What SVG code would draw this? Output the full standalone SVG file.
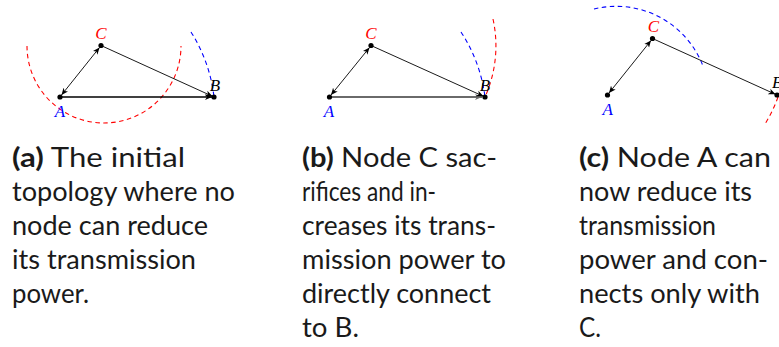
<svg xmlns="http://www.w3.org/2000/svg" width="779" height="347" viewBox="0 0 779 347">
<style>
.cap{font-family:"Lato","Liberation Sans",sans-serif;font-size:27px;fill:#1a1a1a}
.b{font-weight:bold}
.lbl{font-family:"Liberation Serif",serif;font-style:italic;font-size:17px;text-anchor:middle}
.dot{fill:#000}
.ln{stroke:#000;stroke-width:0.9;fill:none}
.ab{stroke:#000;stroke-width:1.3;fill:none}
.abg{stroke:#6a6a6a;stroke-width:2.2;fill:none}
.rr{stroke:#ff0000;stroke-width:1.1;fill:none;stroke-dasharray:4.5 3.5}
.rb{stroke:#0000ff;stroke-width:1.1;fill:none;stroke-dasharray:4.5 3.5}
</style>
<defs>
<marker id="ah" markerUnits="userSpaceOnUse" markerWidth="8" markerHeight="7" refX="7" refY="3.5" orient="auto-start-reverse">
<path d="M0,0.5 L7,3.5 L0,6.5 L2,3.5 z" fill="#000"/>
</marker>
<marker id="ahg" markerUnits="userSpaceOnUse" markerWidth="8" markerHeight="7" refX="7" refY="3.5" orient="auto">
<path d="M0,0.5 L7,3.5 L0,6.5 L2,3.5 z" fill="#6a6a6a"/>
</marker>
</defs>

<!-- Panel (a) -->
<g id="a-ranges">
<path class="rr" d="M27,46 A77,77 0 0 0 181,46"/>
<path class="rb" d="M191,32 A154,154 0 0 1 214,97"/>
</g>
<g id="a-connectors">
<line class="ab" x1="60" y1="97" x2="212" y2="97" marker-end="url(#ah)"/>
<line class="ln" x1="61.5" y1="95" x2="99.5" y2="47.5" marker-start="url(#ah)" marker-end="url(#ah)"/>
<line class="ln" x1="101" y1="45.5" x2="212.5" y2="96.3" marker-end="url(#ah)"/>
</g>
<g id="a-A"><circle class="dot" cx="60" cy="97" r="2.6"/><text class="lbl" x="60" y="116.5" fill="#0000ff">A</text></g>
<g id="a-C"><circle class="dot" cx="101" cy="45.5" r="2.6"/><text class="lbl" x="101" y="39" fill="#ff0000">C</text></g>
<g id="a-B"><circle class="dot" cx="214" cy="97" r="2.6"/><text class="lbl" x="215" y="90.5" fill="#000">B</text></g>
<g id="a-caption">
<text class="cap" x="12" y="166.5" textLength="173" lengthAdjust="spacingAndGlyphs"><tspan class="b">(a)</tspan> The initial</text>
<text class="cap" x="12" y="200.5" textLength="223" lengthAdjust="spacingAndGlyphs">topology where no</text>
<text class="cap" x="12" y="234.5" textLength="196" lengthAdjust="spacingAndGlyphs">node can reduce</text>
<text class="cap" x="12" y="268.5" textLength="184" lengthAdjust="spacingAndGlyphs">its transmission</text>
<text class="cap" x="12" y="302.5" textLength="77" lengthAdjust="spacingAndGlyphs">power.</text>
</g>

<!-- Panel (b) -->
<g id="b-ranges">
<path class="rb" d="M461,32 A154,154 0 0 1 485,97"/>
<path class="rr" d="M493,19 A125,125 0 0 1 485,97"/>
</g>
<g id="b-connectors">
<line class="abg" x1="329.5" y1="97" x2="482" y2="97" marker-end="url(#ahg)"/>
<line class="ln" x1="331" y1="95" x2="369.5" y2="47.5" marker-start="url(#ah)" marker-end="url(#ah)"/>
<line class="ln" x1="371" y1="45.5" x2="483.5" y2="96.3" marker-end="url(#ah)"/>
</g>
<g id="b-A"><circle class="dot" cx="329.5" cy="97" r="2.6"/><text class="lbl" x="329" y="116.5" fill="#0000ff">A</text></g>
<g id="b-C"><circle class="dot" cx="371" cy="45.5" r="2.6"/><text class="lbl" x="371" y="39" fill="#ff0000">C</text></g>
<g id="b-B"><circle class="dot" cx="485" cy="97" r="2.6"/><text class="lbl" x="485" y="90.5" fill="#000">B</text></g>
<g id="b-caption">
<text class="cap" x="302" y="166.5" textLength="195" lengthAdjust="spacingAndGlyphs"><tspan class="b">(b)</tspan> Node C sac-</text>
<text class="cap" x="302" y="200.5" textLength="134" lengthAdjust="spacingAndGlyphs">rifices and in-</text>
<text class="cap" x="302" y="234.5" textLength="194" lengthAdjust="spacingAndGlyphs">creases its trans-</text>
<text class="cap" x="302" y="268.5" textLength="204" lengthAdjust="spacingAndGlyphs">mission power to</text>
<text class="cap" x="302" y="302.5" textLength="189" lengthAdjust="spacingAndGlyphs">directly connect</text>
<text class="cap" x="302" y="336.5" textLength="57" lengthAdjust="spacingAndGlyphs">to B.</text>
</g>

<!-- Panel (c) -->
<g id="c-ranges">
<path class="rb" d="M594,9 A93,93 0 0 1 703,66"/>
<path class="rr" d="M778,97 A136,136 0 0 1 765,124"/>
</g>
<g id="c-connectors">
<line class="ln" x1="609" y1="93" x2="651" y2="40.5" marker-start="url(#ah)" marker-end="url(#ah)"/>
<line class="ln" x1="652.5" y1="38.5" x2="775.5" y2="94.3" marker-end="url(#ah)"/>
</g>
<g id="c-A"><circle class="dot" cx="607.5" cy="95" r="2.6"/><text class="lbl" x="607.7" y="115" fill="#0000ff">A</text></g>
<g id="c-C"><circle class="dot" cx="652.5" cy="38.5" r="2.6"/><text class="lbl" x="653.5" y="31.5" fill="#ff0000">C</text></g>
<g id="c-B"><circle class="dot" cx="777" cy="95" r="2.6"/><text class="lbl" x="772" y="87.5" fill="#000" style="text-anchor:start">B</text></g>
<g id="c-caption">
<text class="cap" x="579" y="166.5" textLength="192" lengthAdjust="spacingAndGlyphs"><tspan class="b">(c)</tspan> Node A can</text>
<text class="cap" x="579" y="200.5" textLength="173" lengthAdjust="spacingAndGlyphs">now reduce its</text>
<text class="cap" x="579" y="234.5" textLength="137" lengthAdjust="spacingAndGlyphs">transmission</text>
<text class="cap" x="579" y="268.5" textLength="189" lengthAdjust="spacingAndGlyphs">power and con-</text>
<text class="cap" x="579" y="302.5" textLength="181" lengthAdjust="spacingAndGlyphs">nects only with</text>
<text class="cap" x="579" y="336.5" textLength="22" lengthAdjust="spacingAndGlyphs">C.</text>
</g>
</svg>
